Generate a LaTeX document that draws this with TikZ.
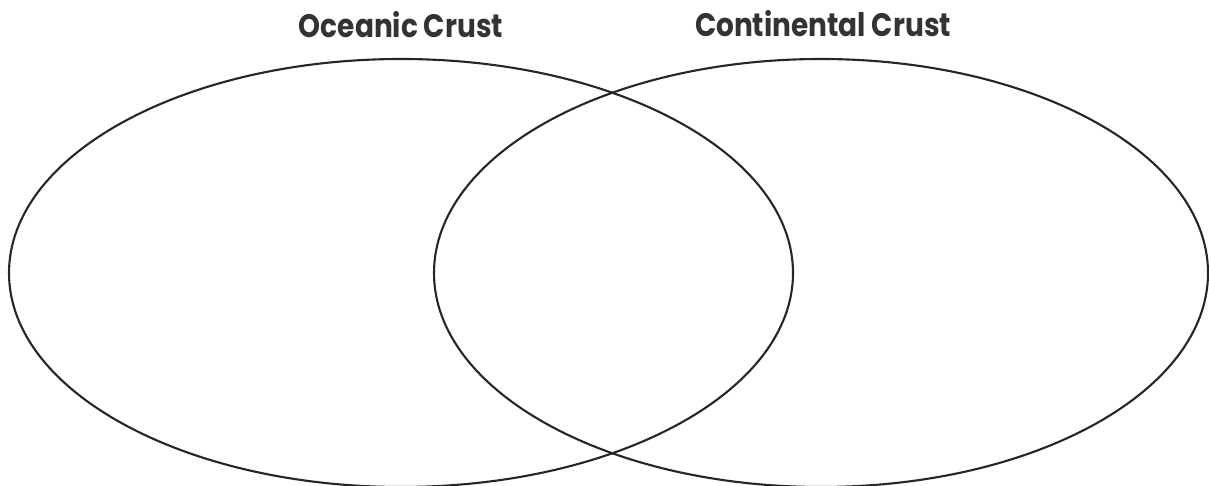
\documentclass[tikz,border=0pt]{standalone}
\usepackage{fontspec}
\setmainfont{Poppins}
\newfontfamily\crustfont{Poppins}[FakeStretch=0.86]
\usetikzlibrary{positioning}

\tikzset{
  venn/.style={line width=1.2pt, draw=black!85},
  crust/.style={font=\crustfont\fontsize{18.5}{20}\selectfont\bfseries, text=black!80, inner sep=0pt}
}

\begin{document}
\begin{tikzpicture}[x=0.02cm,y=0.02cm]
    \useasboundingbox (0,0) rectangle (1209,486);
    % circle centres
    \coordinate (oc) at (401,213);
    \coordinate (cc) at (821,213);
    % the two sets
    \draw[venn] (oc) ellipse [x radius=392, y radius=214];
    \draw[venn] (cc) ellipse [x radius=387, y radius=214];
    % titles
    \node[crust] (octitle) at (401,461) {Oceanic Crust};
    \node[crust] (cctitle) at (823,462) {Continental Crust};
\end{tikzpicture}
\end{document}
